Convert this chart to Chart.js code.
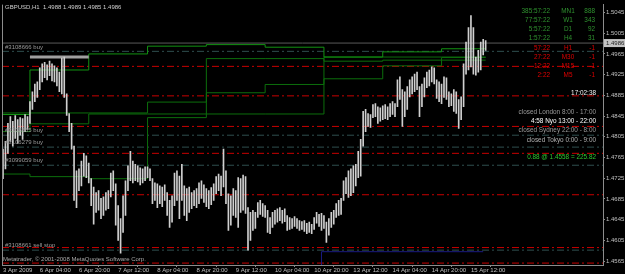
<!DOCTYPE html>
<html><head><meta charset="utf-8">
<style>html,body{margin:0;padding:0;background:#000;overflow:hidden}canvas{display:block;background:#000}</style>
<script src="https://cdn.jsdelivr.net/npm/chart.js@4.4.1/dist/chart.umd.min.js"></script>
</head><body>
<canvas id="c" width="625" height="274"></canvas>
<script>
// ---------- DATA ----------
const symbolTitle = "GBPUSD,H1  1.4988 1.4989 1.4985 1.4986";
const highs = [
1.4781,1.4796,1.4831,1.4844,1.4835,1.4846,1.4838,1.4842,1.4840,1.4848,
1.4844,1.4873,1.4892,1.4907,1.4911,1.4938,1.4946,1.4949,1.4944,1.4951,
1.4946,1.4942,1.4938,1.4930,1.4957,1.4959,1.4888,1.4850,1.4831,1.4787,
1.4739,1.4743,1.4758,1.4773,1.4768,1.4754,1.4724,1.4708,1.4697,1.4701,
1.4686,1.4689,1.4697,1.4701,1.4735,1.4739,1.4714,1.4672,1.4647,1.4691,
1.4720,1.4749,1.4777,1.4758,1.4752,1.4749,1.4745,1.4743,1.4747,1.4747,
1.4743,1.4724,1.4716,1.4714,1.4710,1.4708,1.4712,1.4697,1.4682,1.4691,
1.4735,1.4739,1.4729,1.4752,1.4710,1.4705,1.4708,1.4697,1.4701,1.4705,
1.4716,1.4720,1.4712,1.4705,1.4701,1.4707,1.4714,1.4728,1.4733,1.4729,
1.4781,1.4739,1.4695,1.4691,1.4705,1.4701,1.4726,1.4724,1.4731,1.4728,
1.4668,1.4659,1.4663,1.4659,1.4678,1.4682,1.4676,1.4672,1.4663,1.4649,
1.4659,1.4663,1.4666,1.4668,1.4663,1.4666,1.4653,1.4649,1.4647,1.4651,
1.4647,1.4643,1.4641,1.4643,1.4638,1.4640,1.4636,1.4649,1.4659,1.4655,
1.4657,1.4653,1.4640,1.4647,1.4659,1.4663,1.4676,1.4682,1.4686,1.4720,
1.4726,1.4739,1.4743,1.4749,1.4752,1.4777,1.4800,1.4854,1.4858,1.4850,
1.4848,1.4867,1.4869,1.4863,1.4861,1.4865,1.4867,1.4863,1.4869,1.4873,
1.4869,1.4915,1.4921,1.4896,1.4892,1.4902,1.4915,1.4921,1.4926,1.4930,
1.4902,1.4907,1.4919,1.4930,1.4934,1.4940,1.4938,1.4915,1.4911,1.4907,
1.4921,1.4919,1.4892,1.4888,1.4896,1.4892,1.4877,1.4882,1.4946,1.4988,
1.5016,1.5039,1.5016,1.4959,1.4972,1.4988,1.4993,1.4991];
const lows = [
1.4724,1.4743,1.4773,1.4796,1.4787,1.4802,1.4792,1.4808,1.4800,1.4815,
1.4819,1.4831,1.4858,1.4873,1.4881,1.4896,1.4911,1.4919,1.4915,1.4923,
1.4913,1.4911,1.4903,1.4892,1.4888,1.4881,1.4846,1.4815,1.4781,1.4682,
1.4668,1.4701,1.4710,1.4729,1.4726,1.4716,1.4672,1.4636,1.4659,1.4663,
1.4647,1.4653,1.4663,1.4666,1.4689,1.4701,1.4634,1.4605,1.4580,1.4620,
1.4653,1.4701,1.4720,1.4716,1.4720,1.4718,1.4712,1.4716,1.4720,1.4726,
1.4720,1.4676,1.4682,1.4668,1.4676,1.4670,1.4682,1.4653,1.4630,1.4640,
1.4672,1.4682,1.4647,1.4682,1.4653,1.4643,1.4659,1.4666,1.4672,1.4668,
1.4676,1.4686,1.4678,1.4670,1.4666,1.4674,1.4682,1.4695,1.4701,1.4691,
1.4708,1.4676,1.4624,1.4634,1.4653,1.4649,1.4630,1.4659,1.4663,1.4657,
1.4586,1.4605,1.4624,1.4628,1.4649,1.4655,1.4651,1.4649,1.4620,1.4618,
1.4630,1.4636,1.4640,1.4643,1.4638,1.4641,1.4624,1.4626,1.4628,1.4632,
1.4628,1.4624,1.4626,1.4622,1.4618,1.4620,1.4618,1.4626,1.4638,1.4632,
1.4624,1.4628,1.4601,1.4615,1.4630,1.4636,1.4649,1.4653,1.4655,1.4682,
1.4695,1.4688,1.4691,1.4697,1.4710,1.4726,1.4729,1.4787,1.4815,1.4825,
1.4823,1.4842,1.4844,1.4831,1.4835,1.4838,1.4840,1.4838,1.4844,1.4848,
1.4844,1.4863,1.4877,1.4825,1.4844,1.4858,1.4882,1.4888,1.4892,1.4896,
1.4844,1.4863,1.4882,1.4900,1.4903,1.4911,1.4907,1.4879,1.4873,1.4869,
1.4881,1.4877,1.4863,1.4865,1.4854,1.4850,1.4821,1.4838,1.4863,1.4926,
1.4934,1.4940,1.4926,1.4924,1.4930,1.4934,1.4963,1.4972];
const closes = [
1.4749,1.4777,1.4819,1.4812,1.4825,1.4819,1.4831,1.4819,1.4835,1.4838,
1.4835,1.4865,1.4882,1.4900,1.4892,1.4930,1.4926,1.4942,1.4930,1.4938,
1.4921,1.4934,1.4911,1.4919,1.4896,1.4884,1.4854,1.4825,1.4787,1.4710,
1.4724,1.4729,1.4749,1.4739,1.4758,1.4724,1.4682,1.4653,1.4682,1.4672,
1.4663,1.4682,1.4672,1.4691,1.4720,1.4710,1.4643,1.4624,1.4634,1.4682,
1.4710,1.4739,1.4758,1.4743,1.4739,1.4735,1.4729,1.4735,1.4739,1.4735,
1.4728,1.4691,1.4705,1.4682,1.4701,1.4686,1.4697,1.4663,1.4653,1.4672,
1.4720,1.4701,1.4663,1.4701,1.4682,1.4691,1.4672,1.4686,1.4691,1.4682,
1.4705,1.4710,1.4691,1.4682,1.4689,1.4697,1.4708,1.4720,1.4724,1.4716,
1.4724,1.4686,1.4640,1.4672,1.4691,1.4663,1.4710,1.4682,1.4716,1.4666,
1.4634,1.4653,1.4643,1.4653,1.4668,1.4672,1.4663,1.4666,1.4634,1.4640,
1.4647,1.4655,1.4659,1.4653,1.4659,1.4647,1.4640,1.4634,1.4643,1.4640,
1.4636,1.4632,1.4636,1.4628,1.4632,1.4628,1.4632,1.4643,1.4653,1.4640,
1.4647,1.4634,1.4624,1.4643,1.4653,1.4659,1.4668,1.4674,1.4678,1.4710,
1.4716,1.4701,1.4729,1.4739,1.4743,1.4762,1.4787,1.4838,1.4835,1.4838,
1.4835,1.4858,1.4854,1.4850,1.4854,1.4850,1.4858,1.4846,1.4861,1.4865,
1.4854,1.4902,1.4888,1.4854,1.4873,1.4888,1.4907,1.4911,1.4915,1.4902,
1.4873,1.4896,1.4907,1.4921,1.4926,1.4930,1.4915,1.4902,1.4888,1.4896,
1.4907,1.4892,1.4877,1.4881,1.4873,1.4863,1.4854,1.4873,1.4930,1.4969,
1.4988,1.4959,1.4946,1.4949,1.4953,1.4972,1.4984,1.4986];

const timeLabels = ["3 Apr 2009","6 Apr 04:00","6 Apr 20:00","7 Apr 12:00","8 Apr 04:00","8 Apr 20:00","9 Apr 12:00","10 Apr 04:00","10 Apr 20:00","13 Apr 12:00","14 Apr 04:00","14 Apr 20:00","15 Apr 12:00"];
const timeLabelBars = [0,15,31,47,63,79,95,111,127,143,159,175,191];
const priceTicks = [1.4565,1.4605,1.4645,1.4685,1.4725,1.4765,1.4805,1.4845,1.4885,1.4925,1.4965,1.5005,1.5045];

// daily step lines (value per trading day, day starts as bar index)
const dayStarts = [0,11,35,59,83,107,131,155,179];
const lastBar = 197;
const greenA = [1.4848,1.4934,1.4965,1.4980,1.4983,1.4978,1.4959,1.4969,1.4975];
const greenB = [1.4851,1.4851,1.4851,1.4872,1.4890,1.4906,1.4917,1.4942,1.4958];
const greenC = [1.4815,1.4830,1.4849,1.4849,1.4849,1.4849,1.4959,1.4959,1.4959];
const greenD = [1.4733,1.4728,1.4724,1.4842,1.4956,1.4956,1.4951,1.4953,1.4953];
const navyBars = [130,196];
const navyLevel = 1.4583;

const redLevels = [1.4941,1.4884,1.4825,1.4773,1.4693,1.4591,1.4561];
const orderLevels = [1.4970,1.4808,1.4785,1.4750,1.4586];
const orderLabels = ["#3108666 buy","#3108665 buy","#3106279 buy","#3099059 buy","#3108661 sell stop"];
const bidPrice = 1.4986;
const dayHighBars = [11,35];
const dayHighPrice = 1.4959;

const clockTimes = ["385:57:22","77:57:22","5:57:22","1:57:22","57:22","27:22","12:22","2:22"];
const clockFrames = ["MN1","W1","D1","H4","H1","M30","M15","M5"];
const clockCounts = ["888","343","92","31","-1","-1","-1","-1"];
const serverTime = "17:02:38";
const sessions = ["closed London 8:00 - 17:00","4:58 Nyo 13:00 - 22:00","closed Sydney 22:00 - 8:00","closed Tokyo 0:00 - 9:00"];
const profitText = "0.88 @ 1.4558 = 225.82";
const copyright = "Metatrader, \u00A9 2001-2008 MetaQuotes Software Corp.";

// ---------- BUILD ----------
const X_MIN = -0.41, X_MAX = 244.9;
const FONT = '"Liberation Sans", Arial, sans-serif';

function stepData(vals){
  const pts = vals.map((v,d)=>({x: dayStarts[d], y: v}));
  pts.push({x: lastBar, y: vals[vals.length-1]});
  return pts;
}
function levelLine(v, color, dash, order){
  return {type:'line', data:[{x:X_MIN,y:v},{x:X_MAX,y:v}], borderColor:color, borderWidth:1,
          borderDash:dash, pointRadius:0, order:order};
}
const hiLo = highs.map((h,i)=>({x:i, y:[lows[i], h]}));

const datasets = [
  {type:'bar', data:hiLo, backgroundColor:'#cfcfcf', barThickness:1, grouped:false, order:0},
  ...redLevels.map(v=>levelLine(v,'#c80000',[7,3,2,3],5)),
  ...orderLevels.map(v=>levelLine(v,'#2f4f4f',[7,3,2,3],5)),
  {type:'line', data:[{x:X_MIN,y:bidPrice},{x:X_MAX,y:bidPrice}], borderColor:'#5a5a5a', borderWidth:1, pointRadius:0, order:4},
  {type:'line', data:stepData(greenA), stepped:true, borderColor:'#129212', borderWidth:1, pointRadius:0, order:3},
  {type:'line', data:stepData(greenB), stepped:true, borderColor:'#0c6e0c', borderWidth:1, pointRadius:0, order:3},
  {type:'line', data:stepData(greenC), stepped:true, borderColor:'#0c6e0c', borderWidth:1, pointRadius:0, order:3},
  {type:'line', data:stepData(greenD), stepped:true, borderColor:'#0c6e0c', borderWidth:1, pointRadius:0, order:3},
  {type:'line', data:[{x:navyBars[0],y:1.4540},{x:navyBars[0],y:navyLevel},{x:navyBars[1],y:navyLevel}], borderColor:'#1a1a80', borderWidth:1, pointRadius:0, order:3},
  {type:'line', data:[{x:dayHighBars[0],y:dayHighPrice},{x:dayHighBars[1],y:dayHighPrice}], borderColor:'#a0a0a0', borderWidth:3, pointRadius:0, order:2}
];

const overlay = {
  id:'overlay',
  afterDraw(chart){
    const {ctx, chartArea:a, scales:{y}} = chart;
    ctx.save();
    ctx.strokeStyle = '#8c8c8c'; ctx.lineWidth = 1;
    ctx.beginPath(); ctx.moveTo(a.left+0.5, a.top); ctx.lineTo(a.left+0.5, a.bottom); ctx.stroke();
    ctx.textBaseline = 'middle';
    ctx.font = '6px '+FONT;
    ctx.fillStyle = '#d0d0d0'; ctx.textAlign = 'left';
    ctx.fillText(symbolTitle, a.left+3, 7);
    ctx.fillStyle = '#9a9a9a';
    orderLevels.forEach((v,i)=>{ ctx.fillText(orderLabels[i], a.left+3, y.getPixelForValue(v)-4.5); });
    ctx.fillStyle = '#a8a8a8';
    ctx.fillText(copyright, a.left+1, 259);
    ctx.font = '6.4px '+FONT;
    clockTimes.forEach((t,k)=>{
      const yy = 11 + 9.2*k;
      ctx.fillStyle = k<4 ? '#2f922f' : '#e00000';
      ctx.textAlign='right'; ctx.fillText(t, a.right-53, yy);
      ctx.textAlign='center'; ctx.fillText(clockFrames[k], a.right-35, yy);
      ctx.textAlign='right'; ctx.fillText(clockCounts[k], a.right-8, yy);
    });
    ctx.textAlign='right';
    ctx.fillStyle='#f0f0f0'; ctx.fillText(serverTime, a.right-7, 93);
    const sy=[112,121.5,130.5,140], sc=['#9a9a9a','#ffffff','#9a9a9a','#b0b0b0'];
    sessions.forEach((s,i)=>{ ctx.fillStyle=sc[i]; ctx.fillText(s, a.right-7, sy[i]); });
    ctx.fillStyle='#2ec82e'; ctx.fillText(profitText, a.right-7, 157);
    const by = y.getPixelForValue(bidPrice);
    ctx.fillStyle='#c4c4c4'; ctx.fillRect(a.right+1, by-4, chart.width-a.right-1, 8);
    ctx.fillStyle='#202020'; ctx.font='6px '+FONT; ctx.textAlign='left';
    ctx.fillText(bidPrice.toFixed(4), a.right+3, by);
    ctx.restore();
  }
};

new Chart(document.getElementById('c'), {
  type:'bar',
  data:{datasets},
  plugins:[overlay],
  options:{
    responsive:false, animation:false, devicePixelRatio:1,
    layout:{padding:{left:2, top:2, right:0, bottom:0}},
    plugins:{legend:{display:false}, tooltip:{enabled:false}},
    scales:{
      x:{type:'linear', min:X_MIN, max:X_MAX, offset:false,
         afterBuildTicks(s){ s.ticks = timeLabelBars.map(v=>({value:v})); },
         afterFit(s){ s.height = 9; },
         ticks:{autoSkip:false, maxRotation:0, align:'start', padding:0, color:'#c0c0c0', font:{size:6, family:FONT},
                callback:(v,i)=>timeLabels[i]},
         grid:{drawOnChartArea:false, tickLength:2, color:'#8c8c8c'},
         border:{color:'#8c8c8c'}},
      y:{type:'linear', position:'right', min:1.45573, max:1.50603,
         afterBuildTicks(s){ s.ticks = priceTicks.map(v=>({value:v})); },
         afterFit(s){ s.width = 22; },
         ticks:{padding:1, color:'#c0c0c0', font:{size:6, family:FONT}, callback:v=>Number(v).toFixed(4)},
         grid:{drawOnChartArea:false, tickLength:2, color:'#8c8c8c'},
         border:{color:'#8c8c8c'}}
    }
  }
});
</script>
</body></html>
